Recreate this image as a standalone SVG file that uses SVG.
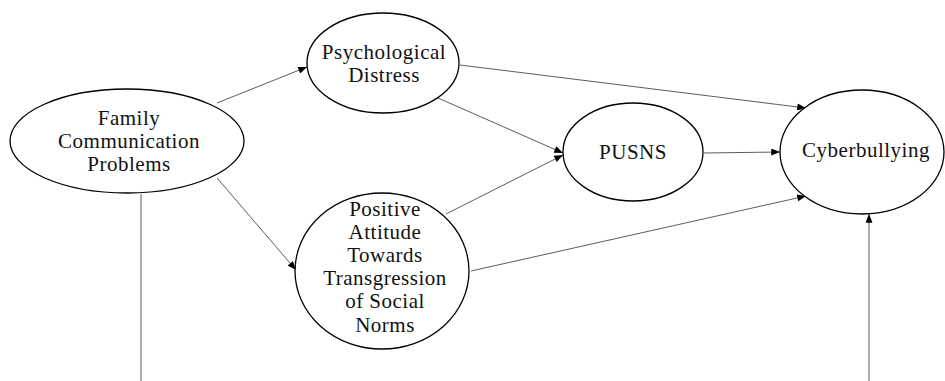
<svg xmlns="http://www.w3.org/2000/svg" width="945" height="381" viewBox="0 0 945 381">
<style>
.node ellipse{fill:#fff;stroke:#000;stroke-width:1.3}
.node text{font-family:"Liberation Serif","DejaVu Serif",serif;font-size:21px;letter-spacing:0.5px;fill:#111;text-anchor:middle}
.edges line{stroke:#333;stroke-width:0.8;fill:none}
.edges line.arr{marker-end:url(#ah)}
</style>
<defs>
<marker id="ah" viewBox="0 0 10 8" refX="10" refY="4" markerWidth="10" markerHeight="7" markerUnits="userSpaceOnUse" orient="auto">
<path d="M0,0 L10,4 L0,8 Z" fill="#000"/>
</marker>
</defs>
<rect width="945" height="381" fill="#fff"/>
<g class="edges">
<line class="arr" x1="217" y1="103" x2="307" y2="67"/>
<line class="arr" x1="217" y1="178" x2="296" y2="270"/>
<line class="arr" x1="460" y1="65" x2="806" y2="108"/>
<line class="arr" x1="438" y1="98" x2="563" y2="153"/>
<line class="arr" x1="446" y1="214" x2="563" y2="155"/>
<line class="arr" x1="471" y1="271" x2="806" y2="196"/>
<line class="arr" x1="704" y1="153" x2="780" y2="152"/>
<line x1="141" y1="194" x2="141" y2="381"/>
<line class="arr" x1="869" y1="381" x2="869" y2="214"/>
</g>
<g id="family" class="node">
<ellipse cx="127" cy="141" rx="117" ry="52"/>
<text x="129" y="125">Family</text>
<text x="129" y="148">Communication</text>
<text x="129" y="171">Problems</text>
</g>
<g id="psych" class="node">
<ellipse cx="383" cy="63" rx="76" ry="50"/>
<text x="384" y="59">Psychological</text>
<text x="384" y="82">Distress</text>
</g>
<g id="positive" class="node">
<ellipse cx="382" cy="271" rx="87" ry="78"/>
<text x="385" y="216">Positive</text>
<text x="385" y="239">Attitude</text>
<text x="385" y="262">Towards</text>
<text x="385" y="285">Transgression</text>
<text x="385" y="308">of Social</text>
<text x="385" y="332">Norms</text>
</g>
<g id="pusns" class="node">
<ellipse cx="633" cy="152" rx="70" ry="49"/>
<text x="633" y="159">PUSNS</text>
</g>
<g id="cyber" class="node">
<ellipse cx="862" cy="152" rx="82" ry="62"/>
<text x="866" y="157">Cyberbullying</text>
</g>
</svg>
